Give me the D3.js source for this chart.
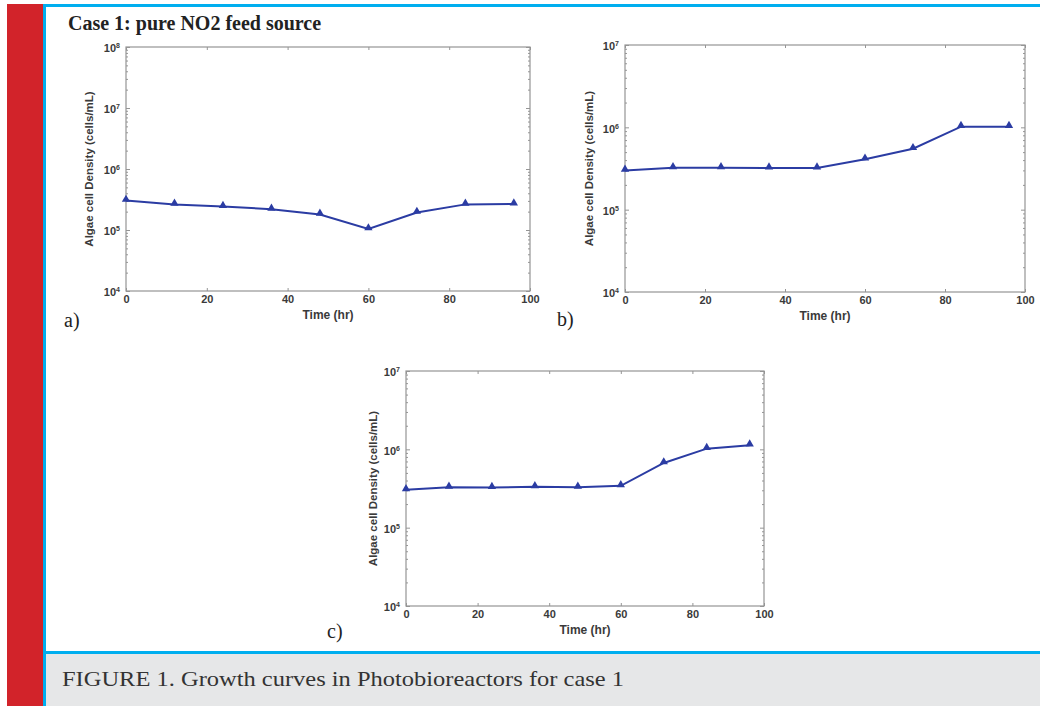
<!DOCTYPE html>
<html>
<head>
<meta charset="utf-8">
<script src="https://cdn.jsdelivr.net/npm/d3@7"></script>
<style>
  body { margin: 0; background: #fff; }
  svg { display: block; }
</style>
</head>
<body>
<div id="chart"></div>
<script>
// data (cells/mL vs hours)
let hours = [0, 12, 24, 36, 48, 60, 72, 84, 96];
let densityA = [3.05e5, 2.63e5, 2.43e5, 2.19e5, 1.8e5, 1.04e5, 1.94e5, 2.63e5, 2.66e5];
let densityB = [3.0e5, 3.22e5, 3.22e5, 3.2e5, 3.2e5, 4.1e5, 5.5e5, 1.02e6, 1.02e6];
let densityC = [3.05e5, 3.28e5, 3.25e5, 3.33e5, 3.28e5, 3.42e5, 6.7e5, 1.02e6, 1.13e6];
let xTicks = [0, 20, 40, 60, 80, 100];
let panelNames = ["a)", "b)", "c)"];

let width = 1040;
let height = 706;

let lineColor = "#2b3ca3";
let axisColor = "#959595";

let svg = d3.select("#chart")
  .append("svg")
  .attr("width", width)
  .attr("height", height);

// page frame: red bar, blue rules, grey caption band
svg.append("rect").attr("x", 0).attr("y", 0).attr("width", width).attr("height", height).attr("fill", "#fff");
svg.append("rect").attr("x", 7).attr("y", 4).attr("width", 36).attr("height", height - 4).attr("fill", "#d2232a");
svg.append("rect").attr("x", 46).attr("y", 654).attr("width", width - 46).attr("height", height - 654).attr("fill", "#e6e7e8");
svg.append("rect").attr("x", 43).attr("y", 4).attr("width", 3).attr("height", height - 4).attr("fill", "#00aeef");
svg.append("rect").attr("x", 43).attr("y", 4).attr("width", width - 43).attr("height", 3).attr("fill", "#00aeef");
svg.append("rect").attr("x", 43).attr("y", 651).attr("width", width - 43).attr("height", 3).attr("fill", "#00aeef");

svg.append("text")
  .attr("x", 68)
  .attr("y", 30)
  .style("font-family", "'Liberation Serif', 'DejaVu Serif', serif")
  .style("font-weight", "bold")
  .style("font-size", "20px")
  .attr("fill", "#222")
  .text("Case 1: pure NO2 feed source");

svg.append("text")
  .attr("x", 62)
  .attr("y", 686)
  .attr("textLength", 562)
  .attr("lengthAdjust", "spacingAndGlyphs")
  .style("font-family", "'Liberation Serif', 'DejaVu Serif', serif")
  .style("font-size", "22px")
  .attr("fill", "#333")
  .text("FIGURE 1. Growth curves in Photobioreactors for case 1");

let panels = [
  {values: densityA, left: 126, right: 530, top: 47, bottom: 291, yMax: 1e8, labelX: 64, labelY: 327, yLabelGap: 33},
  {values: densityB, left: 625, right: 1025, top: 45, bottom: 292, yMax: 1e7, labelX: 557, labelY: 326, yLabelGap: 32},
  {values: densityC, left: 406, right: 764, top: 371, bottom: 606, yMax: 1e7, labelX: 327, labelY: 638, yLabelGap: 29}
];

panels.forEach(function(p, i) {
  let x = d3.scaleLinear().domain([0, 100]).range([p.left, p.right]);
  let y = d3.scaleLog().domain([1e4, p.yMax]).range([p.bottom, p.top]);

  let majors = y.ticks().filter(d => Math.abs(Math.log10(d) % 1) < 1e-9);
  let minors = y.ticks().filter(d => Math.abs(Math.log10(d) % 1) > 1e-9);

  let g = svg.append("g");

  // frame
  g.append("rect")
    .attr("x", p.left).attr("y", p.top)
    .attr("width", p.right - p.left).attr("height", p.bottom - p.top)
    .attr("fill", "none").attr("stroke", axisColor).attr("stroke-width", 1.2);

  // x ticks, inward on both sides
  g.append("g").attr("transform", "translate(0," + p.bottom + ")")
    .call(d3.axisBottom(x).tickValues(xTicks).tickSize(-3).tickPadding(4).tickFormat(d3.format("d")));
  g.append("g").attr("transform", "translate(0," + p.top + ")")
    .call(d3.axisTop(x).tickValues(xTicks).tickSize(-3).tickFormat(""));

  // y ticks, majors and minors, inward on both sides
  let yl = g.append("g").attr("transform", "translate(" + p.left + ",0)")
    .call(d3.axisLeft(y).tickValues(majors).tickSize(-4).tickPadding(4).tickFormat(() => "10"));
  g.append("g").attr("transform", "translate(" + p.left + ",0)")
    .call(d3.axisLeft(y).tickValues(minors).tickSize(-2).tickFormat(""));
  g.append("g").attr("transform", "translate(" + p.right + ",0)")
    .call(d3.axisRight(y).tickValues(majors).tickSize(-4).tickFormat(""));
  g.append("g").attr("transform", "translate(" + p.right + ",0)")
    .call(d3.axisRight(y).tickValues(minors).tickSize(-2).tickFormat(""));

  g.selectAll(".domain").remove();
  g.selectAll(".tick line").attr("stroke", axisColor);
  g.selectAll(".tick text")
    .attr("fill", "#3a3a3a")
    .style("font-family", "'Liberation Sans', Arial, sans-serif")
    .style("font-weight", "bold")
    .style("font-size", "11px");

  yl.selectAll(".tick text")
    .attr("x", -6)
    .attr("dy", "0.45em")
    .each(function(d) {
      d3.select(this).append("tspan")
        .attr("dy", "-0.6em")
        .style("font-size", "7px")
        .text(Math.round(Math.log10(d)));
    });

  // axis titles
  g.append("text")
    .attr("x", (p.left + p.right) / 2)
    .attr("y", p.bottom + 28)
    .attr("text-anchor", "middle")
    .attr("fill", "#3a3a3a")
    .style("font-family", "'Liberation Sans', Arial, sans-serif")
    .style("font-weight", "bold")
    .style("font-size", "12px")
    .text("Time (hr)");

  g.append("text")
    .attr("transform", "translate(" + (p.left - p.yLabelGap) + "," + ((p.top + p.bottom) / 2) + ") rotate(-90)")
    .attr("text-anchor", "middle")
    .attr("fill", "#3a3a3a")
    .style("font-family", "'Liberation Sans', Arial, sans-serif")
    .style("font-weight", "bold")
    .style("font-size", "11.5px")
    .text("Algae cell Density (cells/mL)");

  // series
  let line = d3.line()
    .x((d, j) => x(hours[j]))
    .y(d => y(d));

  g.append("path")
    .datum(p.values)
    .attr("d", line)
    .attr("fill", "none")
    .attr("stroke", lineColor)
    .attr("stroke-width", 2);

  g.selectAll(".marker")
    .data(p.values)
    .enter()
    .append("path")
    .attr("class", "marker")
    .attr("transform", (d, j) => "translate(" + x(hours[j]) + "," + (y(d) - 1) + ")")
    .attr("d", d3.symbol().type(d3.symbolTriangle).size(30))
    .attr("fill", lineColor);

  // panel letter
  svg.append("text")
    .attr("x", p.labelX)
    .attr("y", p.labelY)
    .attr("fill", "#222")
    .style("font-family", "'Liberation Serif', 'DejaVu Serif', serif")
    .style("font-size", "20px")
    .text(panelNames[i]);
});
</script>
</body>
</html>
